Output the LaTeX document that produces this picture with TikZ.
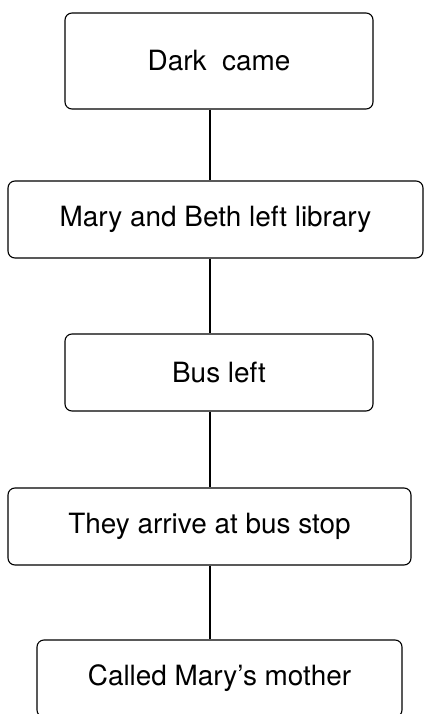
\documentclass[tikz,border=0pt]{standalone}
\usepackage{fontspec}
\setmainfont{TeX Gyre Heros}
\usetikzlibrary{positioning}

\begin{document}
\begin{tikzpicture}[
    x=1bp,
    y=-1bp,
    eventbox/.style={
        draw,
        rounded corners=7bp,
        line width=1.1bp,
        minimum height=77bp,
        inner sep=0pt,
        font=\fontsize{28}{32}\selectfont,
    },
    link/.style={
        line width=1.1bp,
    }
]
    \useasboundingbox (0,0) rectangle (424,714);

    % Events
    \node[eventbox, minimum width=308bp, minimum height=96bp] (dark) at (219,61) {Dark\ \ came};
    \node[eventbox, minimum width=415bp] (library) at (215.5,219.5) {Mary and Beth left library};
    \node[eventbox, minimum width=308bp] (bus) at (219,372.5) {Bus left};
    \node[eventbox, minimum width=403bp] (stop) at (209.5,526.5) {They arrive at bus stop};
    \node[eventbox, minimum width=365bp] (mother) at (219.5,678.5) {Called Mary's mother};

    % Links
    \coordinate (spine) at (210,0);
    \draw[link] (dark.south -| spine) -- (library.north -| spine);
    \draw[link] (library.south -| spine) -- (bus.north -| spine);
    \draw[link] (bus.south -| spine) -- (stop.north -| spine);
    \draw[link] (stop.south -| spine) -- (mother.north -| spine);
\end{tikzpicture}
\end{document}
